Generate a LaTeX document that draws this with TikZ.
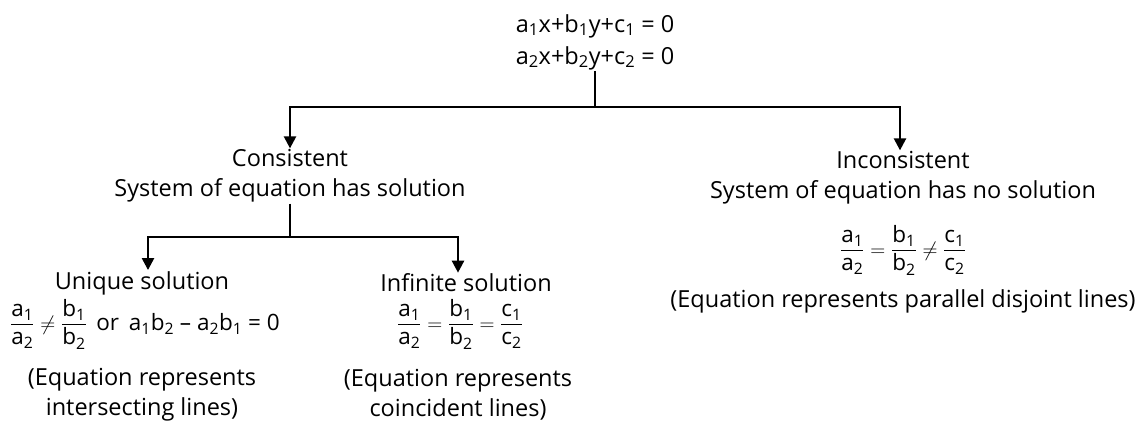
\documentclass[tikz,border=0pt]{standalone}
\usepackage{amsmath}
\usepackage{fontspec}
\setmainfont{Open Sans}
\usetikzlibrary{arrows.meta}

\newcommand\sub[1]{\textsubscript{#1}}
\newcommand\rt[2]{\dfrac{\text{#1}}{\text{#2}}}

\tikzset{
  lbl/.style={align=center, inner sep=1pt, font=\fontsize{23.5}{30}\selectfont},
  ratio/.style={lbl, inner sep=0pt, font=\fontsize{22.5}{28}\selectfont},
  link/.style={line width=2.4pt},
  arr/.style={link, -{Triangle[length=12pt,width=12pt]}}
}

\begin{document}
\begin{tikzpicture}[x=1pt, y=-1pt]
\useasboundingbox (0,0) rectangle (1143,421);
% the system
\node[lbl, font=\fontsize{23.5}{32}\selectfont] (sys) at (595,42)
  {a\sub{1}x+b\sub{1}y+c\sub{1} = 0\\a\sub{2}x+b\sub{2}y+c\sub{2} = 0};
% first split
\node[lbl] (cons) at (290,176) {Consistent\\System of equation has solution};
\node[lbl] (incons) at (903,178) {Inconsistent\\System of equation has no solution};
\node[ratio] (inratio) at (903,250)
  {$\rt{a\sub{1}}{a\sub{2}} = \rt{b\sub{1}}{b\sub{2}} \neq \rt{c\sub{1}}{c\sub{2}}$};
\node[lbl] (innote) at (903,301) {(Equation represents parallel disjoint lines)};
% second split
\node[lbl] (uniq) at (142,283) {Unique solution};
\node[ratio] (uniqratio) at (145,324)
  {$\rt{a\sub{1}}{a\sub{2}} \neq \rt{b\sub{1}}{b\sub{2}}$\ \,or\ \,a\sub{1}b\sub{2} -- a\sub{2}b\sub{1} = 0};
\node[lbl] (uniqnote) at (142,395) {(Equation represents\\intersecting lines)};
\node[lbl] (inf) at (466,283) {Infinite solution};
\node[ratio] (infratio) at (460,324)
  {$\rt{a\sub{1}}{a\sub{2}} = \rt{b\sub{1}}{b\sub{2}} = \rt{c\sub{1}}{c\sub{2}}$};
\node[lbl] (infnote) at (458,395) {(Equation represents\\coincident lines)};

\coordinate (j1) at (sys.south |- 0,107);
\coordinate (j2) at (cons.south |- 0,237);
\draw[link] (sys.south) -- (j1);
\draw[arr] (j1) -| (cons.north);
\draw[arr] (j1) -| ([xshift=-3pt]incons.north);
\draw[link] (cons.south) -- (j2);
\draw[arr] (j2) -| ([xshift=6pt]uniq.north);
\draw[arr] (j2) -| ([xshift=-8pt]inf.north);
\end{tikzpicture}
\end{document}
